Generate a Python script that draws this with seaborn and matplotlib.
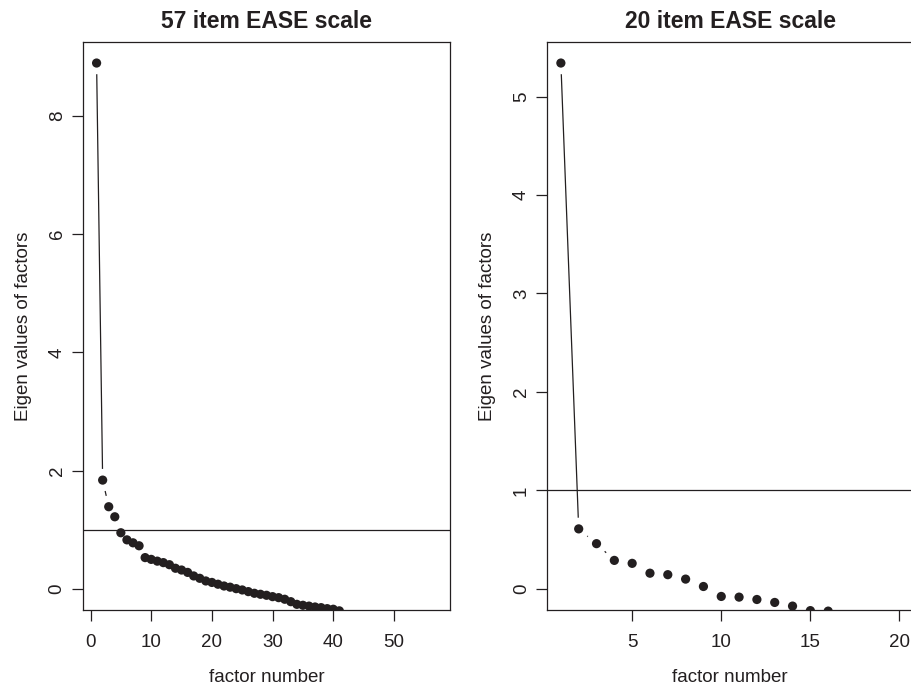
import matplotlib
matplotlib.use("Agg")
import matplotlib.pyplot as plt
import seaborn as sns

# eigen values
factors_57 = list(range(1, 58))
eigen_57 = [8.89, 1.84, 1.39, 1.22, 0.95, 0.83, 0.78, 0.73, 0.53, 0.50,
            0.47, 0.445, 0.41, 0.35, 0.32, 0.28, 0.22, 0.18, 0.135, 0.11,
            0.08, 0.05, 0.03, 0.005, -0.017, -0.045, -0.073, -0.09, -0.107, -0.13,
            -0.147, -0.174, -0.215, -0.26, -0.276, -0.29, -0.305, -0.316, -0.333, -0.343,
            -0.37, -0.45, -0.47, -0.49, -0.51, -0.53, -0.55, -0.57, -0.59, -0.61,
            -0.63, -0.65, -0.67, -0.69, -0.71, -0.73, -0.76]

factors_20 = list(range(1, 21))
eigen_20 = [5.34, 0.61, 0.46, 0.29, 0.26, 0.16, 0.145, 0.10, 0.025, -0.076,
            -0.083, -0.107, -0.137, -0.174, -0.22, -0.225, -0.30, -0.32, -0.34, -0.37]

titles = ["57 item EASE scale", "20 item EASE scale"]
yticks_57 = [0, 2, 4, 6, 8]
yticks_20 = [0, 1, 2, 3, 4, 5]
xticks_57 = [0, 10, 20, 30, 40, 50]
xticks_20 = [5, 10, 15, 20]
cutoff = 1

sns.set_style("ticks")
plt.rcParams['font.family'] = ['Liberation Sans', 'DejaVu Sans']

ink = "#231f20"

fig = plt.figure(figsize=(9.11, 6.84), dpi=100)
ax1 = fig.add_axes([0.0911, 0.1082, 0.4029, 0.8304])
ax2 = fig.add_axes([0.6008, 0.1082, 0.4014, 0.8304])


def scree(ax, x, y, title, yticks, xticks):
    n = len(x)
    # connecting line, broken around the points like R's type="b"
    sns.lineplot(x=x, y=y, ax=ax, color=ink, lw=0.9, sort=False,
                 estimator=None, zorder=1)
    sns.scatterplot(x=x, y=y, ax=ax, s=260, color="white", edgecolor="none",
                    linewidth=0, zorder=2)
    sns.scatterplot(x=x, y=y, ax=ax, s=44, color=ink, edgecolor="none",
                    linewidth=0, zorder=3)
    ax.axhline(cutoff, color=ink, lw=0.9, zorder=4)

    ymax = max(y)
    ax.set_ylim(-0.04 * ymax, 1.04 * ymax)
    span = n - 1
    ax.set_xlim(1 - 0.04 * span, n + 0.04 * span)
    ax.set_xticks(xticks)
    ax.set_yticks(yticks)
    ax.set_yticklabels([str(v) for v in yticks], rotation=90, va="center")

    ax.set_title(title, fontsize=16.5, fontweight="bold", pad=10, color=ink)
    ax.set_xlabel("factor number", fontsize=13.5, labelpad=13, color=ink)
    ax.set_ylabel("Eigen values of factors", fontsize=13.5, labelpad=12, color=ink)
    ax.tick_params(axis="both", direction="out", length=8, width=0.9,
                   labelsize=13.5, colors=ink)
    ax.tick_params(axis="x", pad=9)
    ax.tick_params(axis="y", pad=4.5)
    for sp in ax.spines.values():
        sp.set_visible(True)
        sp.set_linewidth(0.9)
        sp.set_color(ink)


scree(ax1, factors_57, eigen_57, titles[0], yticks_57, xticks_57)
scree(ax2, factors_20, eigen_20, titles[1], yticks_20, xticks_20)

fig.savefig("out.png", dpi=100)
